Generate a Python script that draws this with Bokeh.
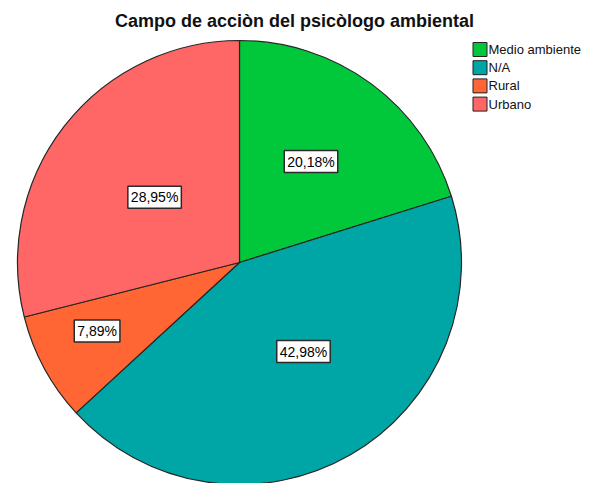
import math
from bokeh.plotting import figure
from bokeh.models import Range1d, ColumnDataSource
from bokeh.core.properties import value
from bokeh.embed import file_html
from bokeh.resources import INLINE

# ---- data ----
categories = ["Medio ambiente", "N/A", "Rural", "Urbano"]
percents = [20.18, 42.98, 7.89, 28.95]
pct_labels = ["20,18%", "42,98%", "7,89%", "28,95%"]
colors = ["#00C83A", "#00A6A6", "#FF6633", "#FF6666"]
title_text = "Campo de acciòn del psicòlogo ambiental"

# ---- layout (screen-pixel like coordinates, y negated) ----
W, H = 589, 483
cx, cy, R = 239, -262, 222
label_rfrac = [0.557, 0.494, 0.712, 0.482]
label_dang = [-1.0, -5.7, 2.7, -0.4]  # degrees, clockwise tweak

total = sum(percents)
starts, ends, lx, ly = [], [], [], []
cum = 0.0
for i, v in enumerate(percents):
    a0 = math.pi / 2 - 2 * math.pi * cum / total
    cum += v
    a1 = math.pi / 2 - 2 * math.pi * cum / total
    starts.append(a0)
    ends.append(a1)
    mid = (a0 + a1) / 2 - math.radians(label_dang[i])
    r = R * label_rfrac[i]
    lx.append(cx + r * math.cos(mid))
    ly.append(cy + r * math.sin(mid))

src = ColumnDataSource(dict(cat=categories, start=starts, end=ends,
                            color=colors, lx=lx, ly=ly, lab=pct_labels))

p = figure(width=W, height=H, output_backend="svg", toolbar_location=None,
           x_range=Range1d(0, W), y_range=Range1d(-H, 0),
           min_border=0, outline_line_color=None)
p.axis.visible = False
p.grid.visible = False
p.background_fill_color = "white"
p.border_fill_color = "white"

p.wedge(x=cx, y=cy, radius=R, start_angle="start", end_angle="end",
        direction="clock", fill_color="color", line_color="#262626",
        line_width=1.2, source=src)

p.text(x="lx", y="ly", text="lab", source=src,
       text_align="center", text_baseline="middle",
       text_font=value("Liberation Sans"), text_font_size="14px",
       text_color="black", background_fill_color="white",
       border_line_color="#2a2a2a", border_line_width=1.5,
       padding=3)

# title
p.text(x=[294], y=[-20], text=[title_text], text_align="center",
       text_baseline="middle", text_font=value("Liberation Sans"),
       text_font_size="18px", text_font_style="bold", text_color="#111111")

# legend
leg_y = [-(49 + 18.2 * i) for i in range(len(categories))]
leg_src = ColumnDataSource(dict(y=leg_y, cat=categories, color=colors))
p.rect(x=479.5, y="y", width=14, height=14, fill_color="color",
       line_color="#222222", line_width=1, source=leg_src)
p.text(x=488, y="y", text="cat", text_align="left", text_baseline="middle",
       text_font=value("Liberation Sans"), text_font_size="13px",
       text_color="#111111", source=leg_src)

open("out.html", "w").write(file_html(p, INLINE))
